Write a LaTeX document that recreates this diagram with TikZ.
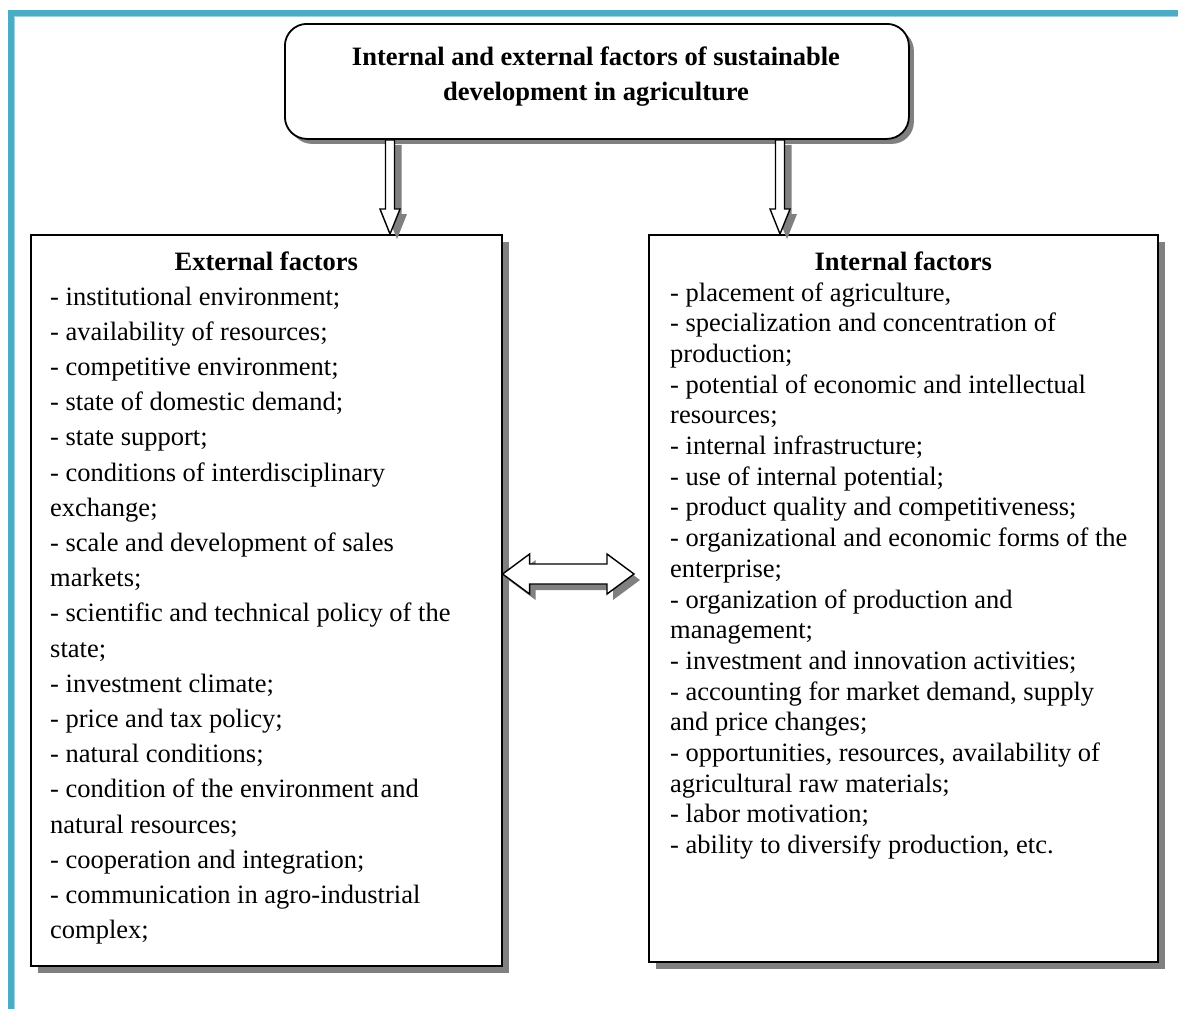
\documentclass[tikz,border=0pt]{standalone}
\usepackage{fontspec}
\setmainfont{Liberation Serif}
\usetikzlibrary{shadows,calc}
\definecolor{framecol}{HTML}{4BACC6}
\definecolor{shadecol}{HTML}{808080}
\begin{document}
\begin{tikzpicture}[x=1pt,y=-1pt,
  font=\fontsize{26.5pt}{32pt}\selectfont,
  panel/.style={draw, line width=1.6pt, fill=white, inner sep=0pt, anchor=north west,
    drop shadow={shadow xshift=7pt, shadow yshift=-7pt, fill=shadecol, opacity=1}},
  headbox/.style={draw, line width=1.8pt, fill=white, inner sep=0pt, anchor=north west,
    rounded corners=22pt,
    drop shadow={shadow xshift=5pt, shadow yshift=-5pt, fill=shadecol, opacity=1}},
  item/.style={anchor=base west, inner sep=0pt},
  heading/.style={anchor=base, inner sep=0pt, font=\fontsize{26.5pt}{32pt}\selectfont\bfseries},
  arrowbody/.style={draw, fill=white, line width=1.4pt, line join=miter},
  arrowshade/.style={fill=shadecol}]
\useasboundingbox (0,0) rectangle (1178,1009);
% frame
\fill[framecol] (8,10) rectangle (1178,16);
\fill[framecol] (8,10) rectangle (14,1009);
\fill[framecol!55] (14,16) rectangle (1178,17);
\fill[framecol!55] (14,16) rectangle (15,1009);

% boxes
\node[headbox, minimum width=624pt, minimum height=115pt] (top) at (284,23) {};
\node[panel, minimum width=471pt, minimum height=731pt] (ext) at (30,234) {};
\node[panel, minimum width=509pt, minimum height=727pt] (int) at (648,234) {};

% title
\node[heading] (t1) at (596,65) {Internal and external factors of sustainable};
\node[heading] (t2) at (596,100) {development in agriculture};

% headings
\node[heading] (eh) at (ext.north |- 0,270) {External factors};
\node[heading] (ih) at (int.north |- 0,270) {Internal factors};

% lists
\foreach \t [count=\i from 0] in {
  {- institutional environment;},
  {- availability of resources;},
  {- competitive environment;},
  {- state of domestic demand;},
  {- state support;},
  {- conditions of interdisciplinary},
  {exchange;},
  {- scale and development of sales},
  {markets;},
  {- scientific and technical policy of the},
  {state;},
  {- investment climate;},
  {- price and tax policy;},
  {- natural conditions;},
  {- condition of the environment and},
  {natural resources;},
  {- cooperation and integration;},
  {- communication in agro-industrial},
  {complex;}}
  \node[item] (L\i) at (50,{305+35.2*\i}) {\t};

\foreach \t [count=\i from 0] in {
  {- placement of agriculture,},
  {- specialization and concentration of},
  {production;},
  {- potential of economic and intellectual},
  {resources;},
  {- internal infrastructure;},
  {- use of internal potential;},
  {- product quality and competitiveness;},
  {- organizational and economic forms of the},
  {enterprise;},
  {- organization of production and},
  {management;},
  {- investment and innovation activities;},
  {- accounting for market demand, supply},
  {and price changes;},
  {- opportunities, resources, availability of},
  {agricultural raw materials;},
  {- labor motivation;},
  {- ability to diversify production, etc.}}
  \node[item] (R\i) at (670,{301+30.7*\i}) {\t};

% down arrows
\coordinate (xa) at (390,0);
\coordinate (xb) at (780,0);
\coordinate (a1s) at (top.south -| xa);
\coordinate (a1e) at (ext.north -| xa);
\coordinate (a2s) at (top.south -| xb);
\coordinate (a2e) at (int.north -| xb);
\foreach \s/\e in {a1s/a1e, a2s/a2e}{
  \begin{scope}[transform canvas={shift={(7pt,-5pt)}}]
  \fill[arrowshade] let \p1=(\s), \p2=(\e) in
    (\x1-4.5pt,\y1) -- (\x1-4.5pt,\y2+25pt) -- (\x1-10pt,\y2+25pt) -- (\x2,\y2)
    -- (\x1+10pt,\y2+25pt) -- (\x1+4.5pt,\y2+25pt) -- (\x1+4.5pt,\y1) -- cycle;
  \end{scope}
  \draw[arrowbody] let \p1=(\s), \p2=(\e) in
    (\x1-4.5pt,\y1) -- (\x1-4.5pt,\y2+25pt) -- (\x1-10pt,\y2+25pt) -- (\x2,\y2)
    -- (\x1+10pt,\y2+25pt) -- (\x1+4.5pt,\y2+25pt) -- (\x1+4.5pt,\y1) -- cycle;
}

% double arrow
\coordinate (ym) at (0,574);
\coordinate (da1) at (ext.east |- ym);
\coordinate (da2) at ($(int.west |- ym)+(-14,0)$);
\begin{scope}[transform canvas={shift={(6pt,-6pt)}}]
\fill[arrowshade] let \p1=(da1), \p2=(da2) in
  (\x1,\y1) -- (\x1+27pt,\y1+20pt) -- (\x1+27pt,\y1+10pt) -- (\x2-27pt,\y1+10pt)
  -- (\x2-27pt,\y1+20pt) -- (\x2,\y2) -- (\x2-27pt,\y1-20pt) -- (\x2-27pt,\y1-10pt)
  -- (\x1+27pt,\y1-10pt) -- (\x1+27pt,\y1-20pt) -- cycle;
\end{scope}
\draw[arrowbody] let \p1=(da1), \p2=(da2) in
  (\x1,\y1) -- (\x1+27pt,\y1+20pt) -- (\x1+27pt,\y1+10pt) -- (\x2-27pt,\y1+10pt)
  -- (\x2-27pt,\y1+20pt) -- (\x2,\y2) -- (\x2-27pt,\y1-20pt) -- (\x2-27pt,\y1-10pt)
  -- (\x1+27pt,\y1-10pt) -- (\x1+27pt,\y1-20pt) -- cycle;
\end{tikzpicture}
\end{document}
